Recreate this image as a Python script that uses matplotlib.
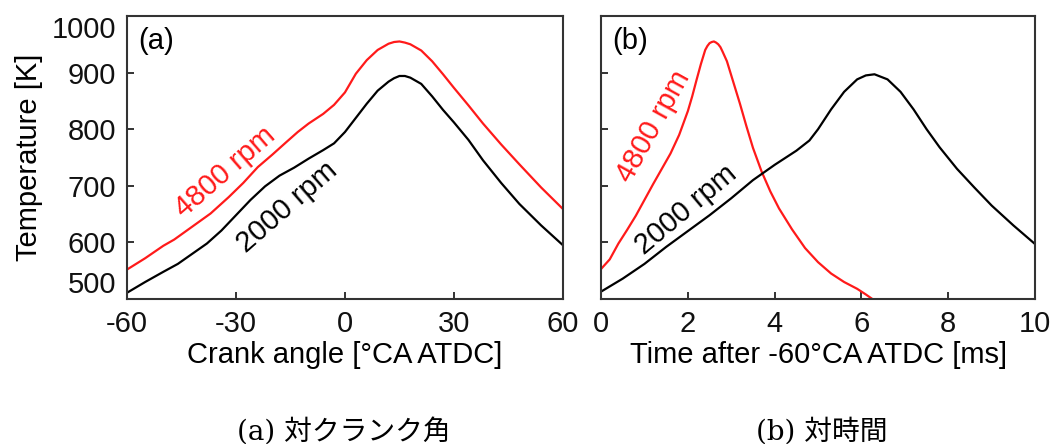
import matplotlib.pyplot as plt

plt.rcParams['font.family'] = ['Liberation Sans', 'DejaVu Sans']

# (a) temperature against crank angle
ca_4800 = [-60, -55, -50, -47, -42, -37, -32, -28, -24, -20, -16, -13, -10, -6, -3, 0,
           3, 6, 9, 12, 13.5, 15, 16.5, 18, 21, 24, 27, 30, 34, 38, 43, 48, 54, 60]
temp_ca_4800 = [552, 572, 594, 605, 628, 651, 680, 705, 733, 755, 778, 795, 810, 827, 843, 865,
                898, 922, 940, 951, 954, 955, 953, 950, 939, 920, 897, 873, 842, 810, 773, 738,
                697, 659]
ca_2000 = [-60, -55, -50, -46, -42, -38, -34, -30, -26, -22, -18, -14, -10, -6, -3, 0,
           3, 6, 9, 12, 13.5, 15, 16.5, 18, 21, 24, 27, 30, 34, 38, 43, 48, 54, 60]
temp_ca_2000 = [511, 530, 548, 562, 580, 598, 621, 648, 675, 699, 718, 732, 748, 763, 775, 795,
                820, 845, 868, 884, 890, 894, 894, 891, 880, 858, 834, 812, 781, 745, 705, 668,
                630, 595]

# (b) temperature against time after -60 CA ATDC
t_4800 = [0, 0.2, 0.4, 0.6, 0.8, 1.0, 1.2, 1.4, 1.6, 1.8, 2.0, 2.1, 2.2, 2.3, 2.4, 2.45, 2.5,
          2.55, 2.6, 2.65, 2.7, 2.75, 2.8, 2.9, 3.0, 3.1, 3.2, 3.35, 3.5, 3.7, 3.9, 4.1, 4.4,
          4.7, 5.0, 5.3, 5.6, 5.9, 6.1, 6.25]
temp_t_4800 = [553, 570, 598, 622, 647, 675, 703, 730, 757, 790, 832, 858, 887, 915, 940, 947, 952,
               954, 955, 953, 950, 945, 937, 920, 895, 870, 845, 805, 767, 725, 690, 660, 623,
               590, 565, 545, 530, 518, 508, 500]
t_2000 = [0, 0.5, 1.0, 1.5, 2.0, 2.5, 3.0, 3.5, 4.0, 4.5, 4.8, 5.0, 5.3, 5.6, 5.9, 6.1, 6.3,
          6.6, 6.9, 7.2, 7.5, 7.8, 8.2, 8.6, 9.0, 9.5, 10]
temp_t_2000 = [513, 536, 562, 592, 620, 648, 678, 710, 737, 762, 780, 800, 835, 866, 888, 895, 897,
               888, 866, 835, 800, 768, 730, 697, 665, 630, 597]

y_ticks = [500, 600, 700, 800, 900, 1000]
ca_ticks = [-60, -30, 0, 30, 60]
t_ticks = [0, 2, 4, 6, 8, 10]

RED = '#ff1a1a'
FS = 21

fig = plt.figure(figsize=(10.53, 4.44), dpi=100)
ax1 = fig.add_axes([0.1206, 0.3266, 0.414, 0.6374])
ax2 = fig.add_axes([0.5708, 0.3266, 0.4122, 0.6374])

for ax in (ax1, ax2):
    ax.set_ylim(500, 1000)
    ax.set_yticks(y_ticks)
    ax.tick_params(direction='in', length=5, width=1.2, labelsize=FS, pad=8, colors='#111111')
    for s in ax.spines.values():
        s.set_linewidth(1.5)
        s.set_color('#333333')

ax1.plot(ca_4800, temp_ca_4800, color=RED, lw=1.6)
ax1.plot(ca_2000, temp_ca_2000, color='black', lw=1.6)
ax1.set_xlim(-60, 60)
ax1.set_xticks(ca_ticks)
ax1.set_xticklabels([str(v) for v in ca_ticks])
ax1.set_yticklabels([str(v) for v in y_ticks])
# keep end labels inside the frame height
labs = ax1.get_yticklabels()
labs[0].set_va('bottom')
labs[-1].set_va('top')
ax1.set_xlabel('Crank angle [°CA ATDC]', fontsize=FS, labelpad=2)
ax1.set_ylabel('Temperature [K]', fontsize=FS, labelpad=6)
ax1.text(0.025, 0.91, '(a)', transform=ax1.transAxes, fontsize=FS, va='center')
ax1.text(-33, 724, '4800 rpm', color=RED, fontsize=FS, rotation=41,
         ha='center', va='center', rotation_mode='anchor')
ax1.text(-16, 662, '2000 rpm', color='black', fontsize=FS, rotation=41,
         ha='center', va='center', rotation_mode='anchor')

ax2.plot(t_4800, temp_t_4800, color=RED, lw=1.6)
ax2.plot(t_2000, temp_t_2000, color='black', lw=1.6)
ax2.set_xlim(0, 10)
ax2.set_xticks(t_ticks)
ax2.set_yticklabels([])
ax2.set_xlabel('Time after -60°CA ATDC [ms]', fontsize=FS, labelpad=2)
ax2.text(0.025, 0.91, '(b)', transform=ax2.transAxes, fontsize=FS, va='center')
ax2.text(1.22, 804, '4800 rpm', color=RED, fontsize=FS, rotation=61,
         ha='center', va='center', rotation_mode='anchor')
ax2.text(1.96, 657, '2000 rpm', color='black', fontsize=FS, rotation=40,
         ha='center', va='center', rotation_mode='anchor')

cap_font = ['DejaVu Serif', 'Noto Sans CJK JP']
fig.text(344 / 1053, 1 - 432 / 444, '(a) 対クランク角', family=cap_font, fontsize=20,
         ha='center', va='center')
fig.text(822 / 1053, 1 - 432 / 444, '(b) 対時間', family=cap_font, fontsize=20,
         ha='center', va='center')

fig.savefig('out.png', dpi=100)
